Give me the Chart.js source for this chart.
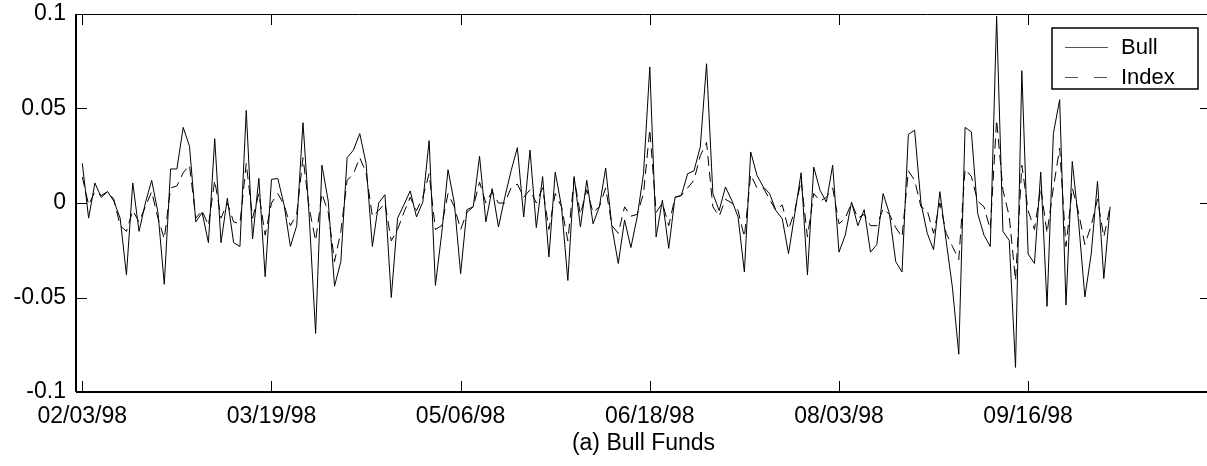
<!DOCTYPE html>
<html lang="en">
<head>
    <meta charset="UTF-8">
    <title>Bull Funds</title>
    <script src="https://cdnjs.cloudflare.com/ajax/libs/Chart.js/4.4.1/chart.umd.min.js"></script>
    <style>
        html, body { margin: 0; padding: 0; background: #fff; overflow: hidden; }
        #wrap { width: 1212px; height: 466px; }
    </style>
</head>
<body>
    <div id="wrap"><canvas id="fundChart" width="1212" height="466"></canvas></div>

    <script>
        // daily returns, one value per trading day
        const bull = [
            0.021, -0.008, 0.0106, 0.003, 0.006, 0.001, -0.008, -0.038, 0.0106, -0.015,
            0.000, 0.012, -0.005, -0.043, 0.018, 0.018, 0.040, 0.030, -0.010, -0.005,
            -0.021, 0.034, -0.021, 0.0025, -0.021, -0.023, 0.049, -0.019, 0.013, -0.039,
            0.0125, 0.013, -0.001, -0.023, -0.012, 0.0425, -0.008, -0.069, 0.020, 0.001,
            -0.044, -0.031, 0.024, 0.028, 0.0367, 0.021, -0.023, 0.000, 0.0044, -0.050,
            -0.008, -0.001, 0.0064, -0.0074, 0.0005, 0.033, -0.0436, -0.016, 0.0176, 0.000,
            -0.0374, -0.0035, -0.002, 0.0247, -0.010, 0.0076, -0.0127, 0.003, 0.017, 0.0293,
            -0.0074, 0.028, -0.013, 0.014, -0.0286, 0.0164, -0.002, -0.041, 0.014, -0.0127,
            0.012, -0.011, -0.002, 0.0185, -0.013, -0.032, -0.009, -0.0236, -0.0074, 0.0155,
            0.072, -0.018, 0.0015, -0.024, 0.003, 0.004, 0.0155, 0.017, 0.0296, 0.0737,
            0.005, -0.004, 0.0085, 0.0014, -0.0074, -0.0365, 0.027, 0.0146, 0.0085, 0.005,
            -0.004, -0.0083, -0.0268, -0.0056, 0.016, -0.038, 0.019, 0.0067, 0.0005, 0.020,
            -0.026, -0.017, 0.0005, -0.012, -0.0035, -0.026, -0.022, 0.005, -0.0056, -0.031,
            -0.0365, 0.0363, 0.0385, 0.000, -0.016, -0.0247, 0.006, -0.020, -0.045, -0.080,
            0.040, 0.0376, -0.0056, -0.017, -0.023, 0.0988, -0.015, -0.0198, -0.087, 0.070,
            -0.027, -0.032, 0.0164, -0.0547, 0.0367, 0.0547, -0.054, 0.022, -0.010, -0.0497,
            -0.027, 0.0115, -0.040, -0.002
        ];

        const index = [
            0.0138, -0.001, 0.006, 0.004, 0.006, 0.002, -0.012, -0.015, -0.004, -0.010,
            -0.002, 0.006, -0.008, -0.019, 0.008, 0.009, 0.016, 0.020, -0.008, -0.004,
            -0.012, 0.012, -0.008, 0.000, -0.010, -0.011, 0.021, -0.008, 0.005, -0.017,
            0.000, 0.005, -0.001, -0.012, -0.006, 0.024, -0.003, -0.020, 0.005, -0.005,
            -0.031, -0.015, 0.012, 0.0155, 0.024, 0.016, -0.007, -0.004, 0.000, -0.020,
            -0.014, -0.005, 0.003, -0.004, 0.003, 0.0155, -0.014, -0.012, 0.005, -0.002,
            -0.014, -0.005, -0.002, 0.011, 0.000, 0.006, 0.000, 0.000, 0.008, 0.010,
            0.003, 0.007, 0.000, 0.008, -0.014, 0.005, -0.002, -0.020, 0.013, -0.006,
            0.007, -0.005, -0.002, 0.008, -0.012, -0.016, -0.002, -0.007, -0.006, 0.005,
            0.039, -0.005, 0.000, -0.012, 0.003, 0.004, 0.008, 0.012, 0.025, 0.032,
            -0.002, -0.007, 0.002, 0.000, -0.004, -0.018, 0.015, 0.008, 0.008, 0.002,
            -0.004, -0.001, -0.014, -0.004, 0.012, -0.018, 0.005, 0.001, 0.003, 0.008,
            -0.011, -0.008, 0.000, -0.008, -0.006, -0.012, -0.012, -0.003, -0.006, -0.013,
            -0.018, 0.017, 0.012, -0.002, -0.004, -0.016, 0.000, -0.016, -0.023, -0.030,
            0.018, 0.014, 0.001, -0.002, -0.014, 0.044, 0.007, -0.007, -0.041, 0.020,
            -0.004, -0.014, 0.008, -0.016, 0.008, 0.029, -0.023, 0.008, -0.005, -0.022,
            -0.012, 0.002, -0.018, -0.002
        ];

        // x tick positions (trading day number) and their date labels
        const tickDays = [0, 30, 60, 90, 120, 150];
        const tickDates = ["02/03/98", "03/19/98", "05/06/98", "06/18/98", "08/03/98", "09/16/98"];

        const FONT = "'Liberation Sans', Arial, Helvetica, sans-serif";
        Chart.defaults.font.family = FONT;
        Chart.defaults.font.size = 23;
        Chart.defaults.color = "#000";

        const toPoints = arr => arr.map((v, i) => ({x: i, y: v}));

        // box + inward tick marks, matlab style
        const framePlugin = {
            id: "frame",
            afterDraw(chart) {
                const {ctx, chartArea: a, scales} = chart;
                const tl = 11;
                ctx.save();
                ctx.strokeStyle = "#000";
                ctx.lineWidth = 1;
                ctx.beginPath();
                ctx.moveTo(a.left, a.top + 0.5); ctx.lineTo(a.right, a.top + 0.5);
                ctx.moveTo(a.right - 0.5, a.top); ctx.lineTo(a.right - 0.5, a.bottom);
                scales.x.ticks.forEach(t => {
                    const x = Math.round(scales.x.getPixelForValue(t.value)) + 0.5;
                    ctx.moveTo(x, a.bottom); ctx.lineTo(x, a.bottom - tl);
                    ctx.moveTo(x, a.top); ctx.lineTo(x, a.top + tl);
                });
                scales.y.ticks.forEach(t => {
                    const y = Math.round(scales.y.getPixelForValue(t.value)) + 0.5;
                    ctx.moveTo(a.left, y); ctx.lineTo(a.left + tl, y);
                    ctx.moveTo(a.right, y); ctx.lineTo(a.right - tl, y);
                });
                ctx.stroke();
                ctx.lineWidth = 2;
                ctx.beginPath();
                ctx.moveTo(a.left, a.bottom); ctx.lineTo(a.right, a.bottom);
                ctx.moveTo(a.left, a.top); ctx.lineTo(a.left, a.bottom);
                ctx.stroke();
                ctx.restore();
            }
        };

        // boxed legend in the upper right corner
        const legendBox = {
            id: "legendBox",
            afterDraw(chart) {
                const {ctx, chartArea: a} = chart;
                const w = 146, h = 61;
                const left = a.right - 13 - w, top = a.top + 14;
                ctx.save();
                ctx.fillStyle = "#fff";
                ctx.fillRect(left, top, w, h);
                ctx.strokeStyle = "#000";
                ctx.lineWidth = 1.5;
                ctx.strokeRect(left, top, w, h);
                ctx.font = "22px " + FONT;
                ctx.textBaseline = "middle";
                ctx.fillStyle = "#000";
                chart.data.datasets.forEach((ds, i) => {
                    const y = top + 19 + i * 30;
                    ctx.strokeStyle = "#555";
                    ctx.lineWidth = 1;
                    ctx.setLineDash(i === 0 ? [] : [13, 16]);
                    ctx.beginPath();
                    ctx.moveTo(left + 13, y + 0.5);
                    ctx.lineTo(left + 56, y + 0.5);
                    ctx.stroke();
                    ctx.setLineDash([]);
                    ctx.fillText(ds.label, left + 69, y + 1);
                });
                ctx.restore();
            }
        };

        const fundChart = new Chart(document.getElementById("fundChart"), {
            type: "line",
            data: {
                datasets: [
                    {label: "Bull", data: toPoints(bull), borderColor: "#000", borderWidth: 1,
                     pointRadius: 0, fill: false, tension: 0},
                    {label: "Index", data: toPoints(index), borderColor: "#000", borderWidth: 1,
                     borderDash: [10, 6], pointRadius: 0, fill: false, tension: 0}
                ]
            },
            options: {
                responsive: false,
                animation: false,
                devicePixelRatio: 1,
                layout: {padding: {top: 14, right: 1, left: 0, bottom: 0}},
                plugins: {legend: {display: false}, tooltip: {enabled: false}},
                scales: {
                    x: {
                        type: "linear",
                        min: -1,
                        max: 179,
                        grid: {display: false, drawTicks: false},
                        border: {display: false},
                        afterBuildTicks: s => { s.ticks = tickDays.map(v => ({value: v})); },
                        afterFit: s => { s.height = 74; s.paddingLeft = 0; s.paddingRight = 0; },
                        ticks: {
                            padding: 11,
                            maxRotation: 0,
                            autoSkip: false,
                            callback: v => tickDates[tickDays.indexOf(v)]
                        },
                        title: {display: true, text: "(a) Bull Funds", padding: {top: 0, bottom: 9}}
                    },
                    y: {
                        min: -0.1,
                        max: 0.1,
                        grid: {display: false, drawTicks: false},
                        border: {display: false},
                        afterFit: s => { s.width = 76; s.paddingTop = 0; s.paddingBottom = 0; },
                        ticks: {
                            stepSize: 0.05,
                            padding: 10,
                            callback: v => String(Number(v.toFixed(2)))
                        }
                    }
                }
            },
            plugins: [framePlugin, legendBox]
        });
    </script>
</body>
</html>
